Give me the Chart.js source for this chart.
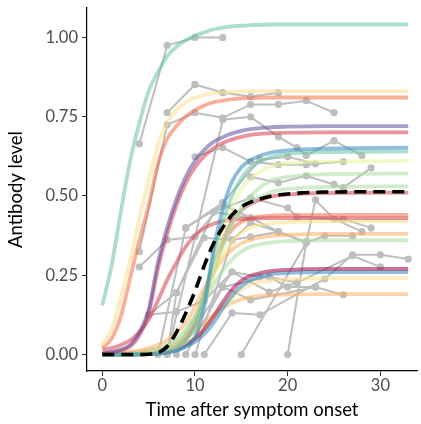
<!DOCTYPE html>
<html>
<head>
<meta charset="utf-8">
<script src="https://cdn.jsdelivr.net/npm/chart.js@4"></script>
<style>
  body { margin: 0; background: #fff; }
  canvas { display: block; }
</style>
</head>
<body>
<canvas id="myChart" width="421" height="424"></canvas>
<script>
const curveDays = [0, 1, 2, 3, 4, 5, 6, 7, 8, 9, 10, 11, 12, 13, 14, 15, 16, 18, 20, 24, 33];

// fitted antibody curves, one per person (colour, then values at curveDays)
const curveColors = ['#66C2A5', '#FEE08B', '#F46D43', '#5E4FA2', '#D53E4F', '#3288BD', '#66C2A5', '#E6F598', '#ABDDA4', '#ABDDA4',
    '#D53E4F', '#D53E4F', '#F46D43', '#FEE08B', '#FDAE61', '#ABDDA4', '#9E0142', '#3288BD', '#FEE08B', '#FDAE61'];
const curveLevels = [
    [0.155, 0.28, 0.45, 0.61, 0.73, 0.83, 0.89, 0.94, 0.97, 0.99, 1.005, 1.015, 1.025, 1.03, 1.034, 1.036, 1.038, 1.04, 1.04, 1.04, 1.04],
    [0.03, 0.08, 0.18, 0.30, 0.43, 0.55, 0.66, 0.73, 0.77, 0.795, 0.81, 0.818, 0.823, 0.826, 0.828, 0.829, 0.83, 0.83, 0.83, 0.83, 0.83],
    [0.02, 0.05, 0.12, 0.24, 0.36, 0.47, 0.60, 0.68, 0.72, 0.75, 0.77, 0.785, 0.795, 0.80, 0.805, 0.807, 0.808, 0.81, 0.81, 0.81, 0.81],
    [0.003, 0.008, 0.015, 0.03, 0.07, 0.14, 0.29, 0.40, 0.49, 0.56, 0.61, 0.645, 0.67, 0.685, 0.697, 0.705, 0.71, 0.716, 0.718, 0.72, 0.72],
    [0.003, 0.007, 0.013, 0.025, 0.06, 0.13, 0.27, 0.38, 0.47, 0.54, 0.59, 0.625, 0.65, 0.667, 0.678, 0.686, 0.692, 0.697, 0.699, 0.70, 0.70],
    [0, 0, 0, 0, 0, 0.001, 0.003, 0.006, 0.012, 0.025, 0.055, 0.15, 0.33, 0.46, 0.545, 0.59, 0.613, 0.635, 0.643, 0.649, 0.652],
    [0, 0, 0, 0, 0.001, 0.002, 0.005, 0.01, 0.02, 0.045, 0.09, 0.18, 0.31, 0.42, 0.50, 0.555, 0.59, 0.62, 0.632, 0.638, 0.64],
    [0, 0, 0, 0, 0.001, 0.002, 0.005, 0.01, 0.02, 0.04, 0.08, 0.16, 0.27, 0.38, 0.46, 0.52, 0.555, 0.59, 0.602, 0.608, 0.61],
    [0, 0, 0, 0, 0.001, 0.003, 0.007, 0.015, 0.03, 0.06, 0.11, 0.18, 0.26, 0.34, 0.41, 0.465, 0.50, 0.545, 0.56, 0.568, 0.57],
    [0, 0, 0, 0, 0.002, 0.005, 0.01, 0.02, 0.04, 0.07, 0.12, 0.19, 0.27, 0.35, 0.41, 0.455, 0.48, 0.51, 0.522, 0.528, 0.53],
    [0, 0, 0, 0, 0, 0.001, 0.003, 0.008, 0.02, 0.045, 0.09, 0.17, 0.27, 0.36, 0.42, 0.455, 0.475, 0.496, 0.504, 0.509, 0.51],
    [0.015, 0.02, 0.03, 0.045, 0.07, 0.11, 0.17, 0.235, 0.29, 0.34, 0.375, 0.398, 0.412, 0.42, 0.425, 0.427, 0.428, 0.43, 0.43, 0.43, 0.43],
    [0, 0, 0, 0.001, 0.002, 0.004, 0.008, 0.016, 0.03, 0.06, 0.11, 0.19, 0.28, 0.35, 0.395, 0.418, 0.43, 0.437, 0.439, 0.44, 0.44],
    [0, 0, 0, 0.001, 0.002, 0.005, 0.01, 0.02, 0.035, 0.06, 0.10, 0.17, 0.25, 0.31, 0.355, 0.385, 0.40, 0.413, 0.417, 0.42, 0.42],
    [0.002, 0.003, 0.005, 0.008, 0.012, 0.02, 0.03, 0.045, 0.07, 0.10, 0.15, 0.21, 0.26, 0.30, 0.33, 0.35, 0.362, 0.373, 0.377, 0.38, 0.38],
    [0.001, 0.002, 0.003, 0.005, 0.008, 0.012, 0.02, 0.03, 0.05, 0.08, 0.12, 0.17, 0.22, 0.265, 0.30, 0.325, 0.34, 0.352, 0.357, 0.36, 0.36],
    [0, 0, 0, 0.001, 0.002, 0.004, 0.007, 0.012, 0.02, 0.032, 0.05, 0.08, 0.12, 0.165, 0.205, 0.232, 0.248, 0.262, 0.267, 0.27, 0.27],
    [0, 0, 0, 0, 0.001, 0.002, 0.004, 0.008, 0.014, 0.025, 0.04, 0.065, 0.10, 0.145, 0.185, 0.215, 0.235, 0.252, 0.257, 0.26, 0.26],
    [0, 0, 0, 0.001, 0.002, 0.004, 0.007, 0.012, 0.02, 0.033, 0.05, 0.08, 0.115, 0.15, 0.18, 0.205, 0.22, 0.233, 0.237, 0.24, 0.24],
    [0.001, 0.002, 0.003, 0.005, 0.008, 0.012, 0.018, 0.027, 0.04, 0.055, 0.075, 0.10, 0.125, 0.147, 0.163, 0.174, 0.181, 0.187, 0.189, 0.19, 0.19]
];

// population mean curve (black dashed)
const meanLevels = [0, 0, 0, 0, 0, 0.001, 0.005, 0.025, 0.07, 0.13, 0.20, 0.28, 0.35, 0.40, 0.44, 0.465, 0.48, 0.498, 0.506, 0.512, 0.513];

// measured samples per person (grey)
const sampleDays = [
    [4, 7, 10, 13],
    [7, 10, 13, 16, 19],
    [4, 7, 10, 13, 16, 19, 22, 25],
    [7, 13, 16, 19, 21, 22, 25, 28],
    [10, 13, 16, 19, 22, 26],
    [9, 13, 17, 20, 23],
    [16, 19, 22, 25, 26, 29],
    [15, 22, 24, 27],
    [20, 22, 23, 25, 28],
    [12, 16, 20, 21, 26, 29],
    [11, 14, 17, 24, 27, 30, 33],
    [13, 16, 23, 26],
    [18, 21, 27, 30],
    [4, 7, 10, 13],
    [6, 9, 13, 16, 19],
    [7, 8, 11, 14, 16, 19, 22],
    [8, 14, 18, 21],
    [10, 14, 16, 19, 22],
    [9, 13, 18, 20, 23],
    [5, 8, 12, 16],
    [5, 8, 11, 14, 17]
];
const sampleLevels = [
    [0.664, 0.974, 0.999, 0.999],
    [0.762, 0.851, 0.825, 0.813, 0.825],
    [0.324, 0.724, 0.762, 0.746, 0.788, 0.788, 0.800, 0.762],
    [0, 0.740, 0.749, 0.686, 0.652, 0.627, 0.674, 0.627],
    [0.623, 0.652, 0.608, 0.598, 0.598, 0.608],
    [0.399, 0.478, 0.614, 0.623, 0.601],
    [0.560, 0.541, 0.563, 0.536, 0.526, 0.588],
    [0, 0.352, 0.374, 0.374],
    [0, 0.352, 0.487, 0.427, 0.387],
    [0.449, 0.494, 0.462, 0.434, 0.427, 0.399],
    [0, 0.131, 0.125, 0.238, 0.314, 0.314, 0.301],
    [0.213, 0.172, 0.213, 0.188],
    [0.245, 0.226, 0.311, 0.276],
    [0.276, 0.361, 0.371, 0.478],
    [0, 0.399, 0.472, 0.431, 0.387],
    [0, 0.195, 0.368, 0.361, 0.415, 0.387, 0.355],
    [0, 0.260, 0.197, 0.226],
    [0, 0.361, 0.371, 0.387, 0.352],
    [0, 0.213, 0.245, 0.213, 0.213],
    [0.125, 0.195, 0.449, 0.431],
    [0.125, 0.135, 0.17, 0.260, 0.245]
];

const xTicks = [0, 10, 20, 30];
const yTicks = [0, 0.25, 0.5, 0.75, 1];

function hexAlpha(hex, a) {
    const r = parseInt(hex.slice(1, 3), 16);
    const g = parseInt(hex.slice(3, 5), 16);
    const b = parseInt(hex.slice(5, 7), 16);
    return `rgba(${r}, ${g}, ${b}, ${a})`;
}

const datasets = [];

// mean on top
datasets.push({
    data: curveDays.map((d, i) => ({ x: d, y: meanLevels[i] })),
    borderColor: '#000',
    borderWidth: 3.6,
    borderDash: [12, 7],
    pointRadius: 0,
    cubicInterpolationMode: 'monotone',
    order: 0
});

curveLevels.forEach((levels, c) => {
    datasets.push({
        data: curveDays.map((d, i) => ({ x: d, y: levels[i] })),
        borderColor: hexAlpha(curveColors[c], 0.55),
        borderWidth: 3.8,
        pointRadius: 0,
        cubicInterpolationMode: 'monotone',
        order: 1
    });
});

sampleDays.forEach((days, s) => {
    datasets.push({
        data: days.map((d, i) => ({ x: d, y: sampleLevels[s][i] })),
        borderColor: '#bebebe',
        backgroundColor: '#bebebe',
        borderWidth: 2,
        pointRadius: 3.6,
        pointBorderWidth: 0,
        tension: 0,
        order: 2
    });
});

const tickFont = { family: 'Lato', size: 16.5 };
const titleFont = { family: 'Lato', size: 18.5 };

new Chart(document.getElementById('myChart'), {
    type: 'line',
    data: { datasets: datasets },
    options: {
        responsive: false,
        animation: false,
        layout: { padding: { top: 8, right: 1, left: 0, bottom: 0 } },
        plugins: { legend: { display: false }, tooltip: { enabled: false } },
        scales: {
            x: {
                type: 'linear',
                min: -1.65,
                max: 33.95,
                afterBuildTicks: (s) => { s.ticks = xTicks.map(v => ({ value: v })); },
                afterFit: (s) => { s.height = 53; s.paddingLeft = 0; s.paddingRight = 0; },
                grid: { drawOnChartArea: false, drawTicks: true, tickLength: 5, color: '#333', tickWidth: 1 },
                border: { display: true, color: '#000', width: 1.2 },
                ticks: { color: '#4d4d4d', font: tickFont, padding: 0, maxRotation: 0 },
                title: { display: true, text: 'Time after symptom onset', color: '#000', font: titleFont, padding: { top: 0, bottom: 3 } }
            },
            y: {
                type: 'linear',
                min: -0.052,
                max: 1.092,
                afterBuildTicks: (s) => { s.ticks = yTicks.map(v => ({ value: v })); },
                afterFit: (s) => { s.width = 87; s.paddingTop = 0; s.paddingBottom = 0; },
                grid: { drawOnChartArea: false, drawTicks: true, tickLength: 5, color: '#333', tickWidth: 1 },
                border: { display: true, color: '#000', width: 1.2 },
                ticks: { color: '#4d4d4d', font: tickFont, padding: 4, callback: (v) => v.toFixed(2) },
                title: { display: true, text: 'Antibody level', color: '#000', font: titleFont, padding: { top: 5, bottom: 0 } }
            }
        }
    }
});
</script>
</body>
</html>
